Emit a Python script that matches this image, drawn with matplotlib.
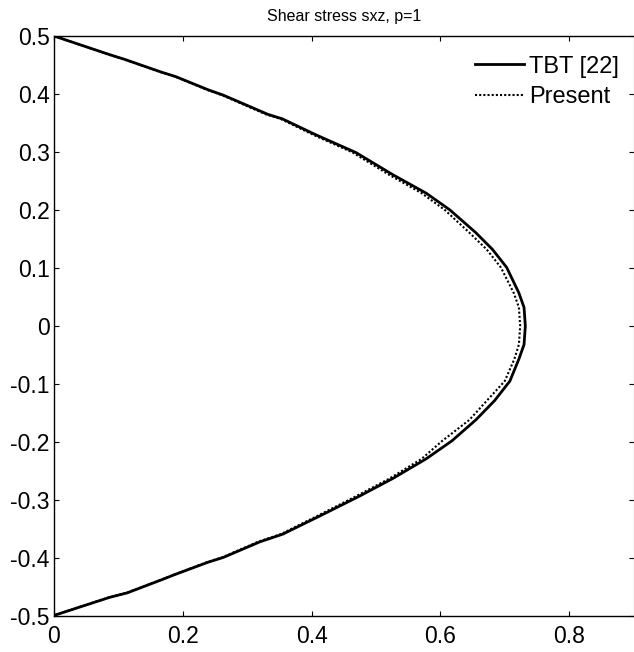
import matplotlib
matplotlib.use("Agg")
import matplotlib.pyplot as plt

# thickness coordinate z/h (upper half, mirrored below)
z_half = [0.5, 0.468, 0.46, 0.438, 0.43, 0.407, 0.398, 0.365, 0.357, 0.33,
          0.299, 0.261, 0.229, 0.2, 0.161, 0.132, 0.101, 0.057, 0.032, 0.0]
tbt_upper = [0.0, 0.086, 0.109, 0.166, 0.189, 0.240, 0.263, 0.332, 0.355, 0.406,
             0.469, 0.526, 0.578, 0.615, 0.655, 0.681, 0.703, 0.722, 0.730, 0.732]
present_upper = [0.0, 0.085, 0.108, 0.165, 0.188, 0.238, 0.261, 0.329, 0.352, 0.402,
                 0.464, 0.520, 0.571, 0.607, 0.645, 0.672, 0.694, 0.714, 0.722, 0.724]

z_lower = [-0.032, -0.057, -0.095, -0.129, -0.162, -0.198, -0.229, -0.263, -0.293,
           -0.328, -0.359, -0.372, -0.399, -0.407, -0.428, -0.438, -0.46, -0.468, -0.499]
tbt_lower = [0.730, 0.722, 0.708, 0.684, 0.655, 0.618, 0.578, 0.526, 0.475,
             0.412, 0.355, 0.320, 0.263, 0.240, 0.189, 0.166, 0.114, 0.086, 0.0]
present_lower = [0.722, 0.715, 0.700, 0.672, 0.645, 0.603, 0.571, 0.521, 0.470,
                 0.408, 0.352, 0.317, 0.261, 0.238, 0.188, 0.165, 0.113, 0.085, 0.0]

z = z_half + z_lower
tbt = tbt_upper + tbt_lower
present = present_upper + present_lower

x_ticks = [0, 0.2, 0.4, 0.6, 0.8]
y_ticks = [-0.5, -0.4, -0.3, -0.2, -0.1, 0, 0.1, 0.2, 0.3, 0.4, 0.5]
y_labels = ["-0.5", "-0.4", "-0.3", "-0.2", "-0.1", "0", "0.1", "0.2", "0.3", "0.4", "0.5"]

plt.rcParams["font.family"] = ["Liberation Sans", "DejaVu Sans"]

fig = plt.figure(figsize=(6.34, 6.52), dpi=100)
ax = fig.add_axes([54 / 634, 36 / 652, 579.5 / 634, 580 / 652])

ax.plot(tbt, z, color="black", linewidth=2.0, label="TBT [22]")
ax.plot(present, z, color="black", linewidth=1.5, linestyle=(0, (1, 1)), label="Present")

ax.set_xlim(0, 0.9)
ax.set_ylim(-0.5, 0.5)
ax.set_xticks(x_ticks)
ax.set_xticklabels(["0", "0.2", "0.4", "0.6", "0.8"])
ax.set_yticks(y_ticks)
ax.set_yticklabels(y_labels)
ax.tick_params(direction="in", length=3.5, width=0.8, top=True, right=True,
               labelsize=16.5, colors="black")
ax.tick_params(axis="x", pad=6.5)
ax.tick_params(axis="y", pad=3)
for s in ax.spines.values():
    s.set_linewidth(1.0)
ax.spines["right"].set_color("#c8c8c8")

ax.set_title("Shear stress sxz, p=1", fontsize=11.5, pad=11)

ax.legend(loc="upper right", bbox_to_anchor=(0.975, 0.966), frameon=False,
          fontsize=17, handlelength=2.1, handletextpad=0.2, labelspacing=0.35,
          borderpad=0, borderaxespad=0)

fig.savefig("out.png", dpi=100)
